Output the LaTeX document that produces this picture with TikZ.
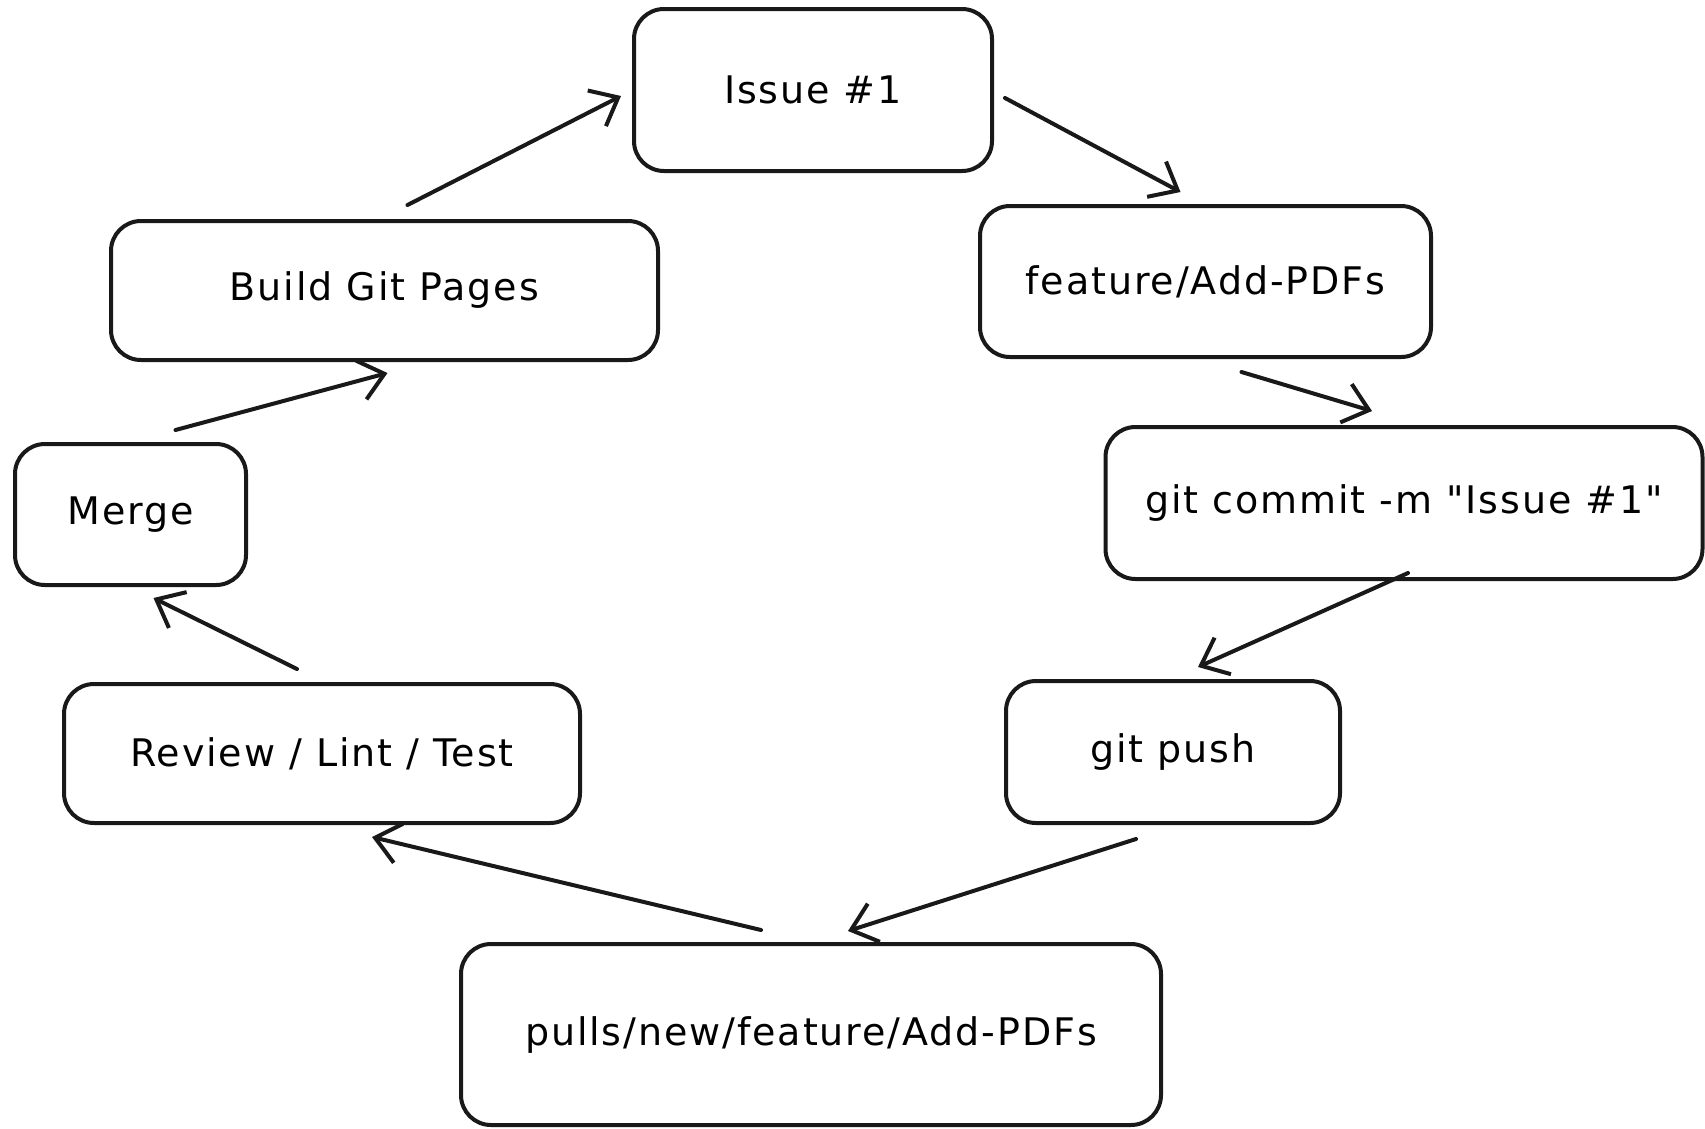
\documentclass[tikz,border=0pt]{standalone}
\usepackage{fontspec}
\newfontfamily\boxfont{DejaVu Sans}[LetterSpace=5]
\usetikzlibrary{arrows.meta}
\begin{document}
\begin{tikzpicture}[x=1pt,y=-1pt,
  box/.style={draw=black!90, line width=4pt, rounded corners=30pt, fill=white,
    font=\boxfont\fontsize{38}{42}\selectfont, inner sep=0pt, anchor=center},
  flow/.style={draw=black!90, line width=4pt, line cap=round,
    -{Straight Barb[length=24pt,width=40pt,line width=4pt]}}]
\useasboundingbox[fill=white] (0,0) rectangle (1705,1128);
\node[box, minimum width=358pt, minimum height=162pt] (issue) at (813,90) {Issue \#1};
\node[box, minimum width=451pt, minimum height=151pt] (feat) at (1205.5,281.5) {feature/Add-PDFs};
\node[box, minimum width=597pt, minimum height=152pt] (commit) at (1404,503) {git commit -m "Issue \#1"};
\node[box, minimum width=334pt, minimum height=142pt] (push) at (1173,752) {git push};
\node[box, minimum width=700pt, minimum height=181pt] (pulls) at (811,1034.5) {pulls/new/feature/Add-PDFs};
\node[box, minimum width=516pt, minimum height=139pt] (review) at (322,753.5) {Review / Lint / Test};
\node[box, minimum width=231pt, minimum height=141pt] (merge) at (130.5,514.5) {Merge};
\node[box, minimum width=547pt, minimum height=139pt] (build) at (384.5,290.5) {Build Git Pages};
\draw[flow] ([shift={(11,8)}]issue.east) -- ([shift={(-25,-12)}]feat.north);
\draw[flow] ([shift={(36,13)}]feat.south) -- ([shift={(-32,-14)}]commit.north);
\draw[flow] ([shift={(4,-8)}]commit.south) -- ([shift={(25,-12)}]push.north);
\draw[flow] ([shift={(-37,14)}]push.south) -- ([shift={(37,-11)}]pulls.north);
\draw[flow] ([shift={(-50,-12)}]pulls.north) -- ([shift={(50,12)}]review.south);
\draw[flow] ([shift={(-25,-13)}]review.north) -- ([shift={(23,11)}]merge.south);
\draw[flow] ([shift={(45,-12)}]merge.north) -- ([shift={(3,11)}]build.south);
\draw[flow] ([shift={(23,-14)}]build.north) -- ([shift={(-11,6)}]issue.west);
\end{tikzpicture}
\end{document}
